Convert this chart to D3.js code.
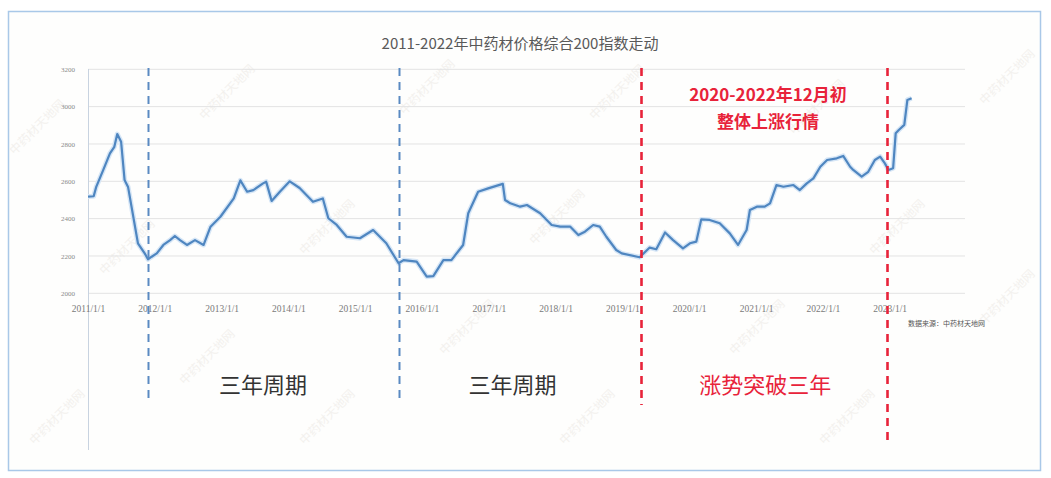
<!DOCTYPE html>
<html><head><meta charset="utf-8">
<script src="https://cdn.jsdelivr.net/npm/d3@7"></script>
<style>
html,body{margin:0;padding:0;background:#fff;}
svg{display:block;font-family:"Noto Sans CJK SC","Noto Sans",sans-serif;}
</style></head>
<body>
<svg id="chart" width="1051" height="478"></svg>
<script>
// ---- data ----
const title = "2011-2022年中药材价格综合200指数走动";
const dates = ["2011-01-01","2011-02-01","2011-02-15","2011-03-25","2011-05-01","2011-05-25","2011-06-10","2011-07-01","2011-07-20","2011-08-08",
"2011-10-01","2011-11-07","2011-11-25","2011-12-15","2012-01-12","2012-02-17","2012-03-25","2012-04-20","2012-05-18","2012-06-25",
"2012-08-08","2012-09-24","2012-11-01","2012-12-25","2013-03-08","2013-04-13","2013-05-20","2013-06-23","2013-08-15","2013-09-01",
"2013-10-01","2013-11-15","2014-01-08","2014-03-03","2014-05-15","2014-07-08","2014-08-07","2014-09-22","2014-11-15","2015-01-27",
"2015-04-09","2015-06-20","2015-08-26","2015-09-22","2015-12-03","2016-01-27","2016-03-03","2016-04-27","2016-06-10","2016-08-13",
"2016-09-10","2016-11-03","2016-12-28","2017-03-18","2017-03-30","2017-04-28","2017-06-21","2017-07-28","2017-10-08","2017-12-10",
"2018-01-26","2018-03-22","2018-05-05","2018-06-10","2018-07-25","2018-08-30","2018-10-05","2018-11-28","2018-12-28","2019-04-05",
"2019-05-30","2019-07-05","2019-08-22","2019-10-05","2019-11-28","2020-01-05","2020-02-09","2020-03-07","2020-04-22","2020-06-16",
"2020-08-10","2020-09-24","2020-11-10","2020-11-28","2021-01-05","2021-02-17","2021-03-18","2021-04-22","2021-05-30","2021-07-24",
"2021-08-28","2021-10-05","2021-11-10","2021-12-18","2022-01-24","2022-03-18","2022-04-22","2022-05-30","2022-06-16","2022-08-01",
"2022-09-06","2022-10-12","2022-11-10","2022-12-06","2022-12-25","2023-01-20","2023-02-03","2023-02-20","2023-03-22","2023-04-08","2023-05-01"];
const values = [2518,2520,2570,2660,2750,2785,2853,2812,2607,2570,
2268,2214,2182,2196,2214,2259,2285,2307,2285,2259,
2285,2259,2357,2410,2509,2605,2544,2553,2589,2598,
2495,2544,2600,2564,2490,2508,2402,2366,2303,2295,
2339,2268,2161,2178,2170,2089,2092,2178,2178,2259,
2429,2544,2562,2586,2500,2482,2464,2473,2429,2366,
2357,2357,2312,2330,2366,2357,2303,2232,2214,2193,
2245,2236,2326,2285,2241,2268,2277,2396,2393,2375,
2321,2259,2339,2446,2464,2464,2482,2580,2571,2580,
2553,2589,2616,2678,2714,2723,2736,2678,2661,2625,
2651,2714,2732,2696,2661,2670,2857,2875,2902,3036,3045];
const yTicks = [2000,2200,2400,2600,2800,3000,3200];
const xTickYears = [2011,2012,2013,2014,2015,2016,2017,2018,2019,2020,2021,2022,2023];
const markerDates = ["2011-11-25","2015-08-26","2019-04-15","2022-12-20"];
const markerKinds = ["blue","blue","red","red"];
const markerBottoms = [403,403,405,441];
const periodLabels = ["三年周期","三年周期","涨势突破三年"];
const periodCenters = ["2013-08-15","2017-05-10","2021-02-20"];
const periodKinds = ["dark","dark","red"];
const noteLines = ["2020-2022年12月初","整体上涨行情"];
const sourceText = "数据来源：中药材天地网";
const watermark = "中药材天地网";

// ---- drawing ----
const svg = d3.select("#chart");
const parse = d3.timeParse("%Y-%m-%d");
const data = dates.map((d,i)=>({date:parse(d), value:values[i]}));

// frame
svg.append("rect").attr("x",8.5).attr("y",11.5).attr("width",1032).attr("height",459)
  .attr("fill","#fefefd").attr("stroke","#a9c8e8").attr("stroke-width",1.5);

const x = d3.scaleTime().domain([new Date(2011,0,1), new Date(2024,1,17)]).range([88,965]);
const y = d3.scaleLinear().domain([2000,3200]).range([293.3,69.3]);

// watermarks
const wm = svg.append("g").attr("fill","#f3f1ee").attr("font-size",12);
const wmPos = [[40,130],[230,95],[430,90],[620,95],[820,110],[1010,80],[130,250],[330,230],[560,220],[900,230],
[60,420],[330,420],[590,420],[850,420],[1010,300],[210,360],[470,330],[760,330]];
wmPos.forEach(p=>{
  wm.append("text").attr("transform",`translate(${p[0]},${p[1]}) rotate(-45)`)
    .attr("text-anchor","middle").text(watermark);
});

// gridlines
svg.append("g").selectAll("line").data(yTicks).join("line")
  .attr("x1",88).attr("x2",965).attr("y1",d=>y(d)).attr("y2",d=>y(d))
  .attr("stroke","#e3e3e3").attr("stroke-width",1);

// y axis
const yAxis = d3.axisLeft(y).tickValues(yTicks).tickFormat(d3.format("d")).tickSize(0).tickPadding(13);
const gy = svg.append("g").attr("transform","translate(88,0)").call(yAxis);
gy.select(".domain").remove();
gy.selectAll("text").attr("font-size",7).attr("fill","#8a8a8a").attr("font-family","Liberation Serif, serif");
svg.append("line").attr("x1",88.5).attr("x2",88.5).attr("y1",69).attr("y2",450)
  .attr("stroke","#c8d3e0").attr("stroke-width",1);

// x axis labels
const xAxis = d3.axisBottom(x).tickValues(xTickYears.map(yy=>new Date(yy,0,1)))
  .tickFormat(d=>d.getFullYear()+"/1/1").tickSize(0).tickPadding(12);
const gx = svg.append("g").attr("transform","translate(0,293.3)").call(xAxis);
gx.select(".domain").remove();
gx.selectAll("text").attr("font-size",9.5).attr("fill","#7a7a7a").attr("font-family","Liberation Serif, serif");

// title
svg.append("text").attr("x",520).attr("y",49).attr("text-anchor","middle")
  .attr("font-size",15).attr("fill","#595959").text(title);

// line
const line = d3.line().x(d=>x(d.date)).y(d=>y(d.value));
svg.append("path").datum(data).attr("d",line).attr("fill","none")
  .attr("stroke","#d6e6f6").attr("stroke-width",5).attr("stroke-linejoin","round");
svg.append("path").datum(data).attr("d",line).attr("fill","none")
  .attr("stroke","#4f86c0").attr("stroke-width",2.2).attr("stroke-linejoin","round");

// markers
const colors = {blue:"#5a8ac2", red:"#e8233a", dark:"#333333"};
markerDates.forEach((d,i)=>{
  const xx = Math.round(x(parse(d)))+0.5;
  svg.append("line").attr("x1",xx).attr("x2",xx).attr("y1",68).attr("y2",markerBottoms[i])
    .attr("stroke",colors[markerKinds[i]]).attr("stroke-width",markerKinds[i]==="red"?2.6:2)
    .attr("stroke-dasharray","8,6");
});

// period labels
periodLabels.forEach((t,i)=>{
  svg.append("text").attr("x",x(parse(periodCenters[i]))).attr("y",393).attr("text-anchor","middle")
    .attr("font-size",22).attr("fill",colors[periodKinds[i]]).text(t);
});

// note
noteLines.forEach((t,i)=>{
  svg.append("text").attr("x",768).attr("y",101+i*27).attr("text-anchor","middle")
    .attr("font-size",17).attr("font-weight","bold").attr("fill","#e8233a").text(t);
});

// source
svg.append("text").attr("x",985).attr("y",326).attr("text-anchor","end")
  .attr("font-size",7).attr("fill","#555").text(sourceText);
</script>
</body></html>
